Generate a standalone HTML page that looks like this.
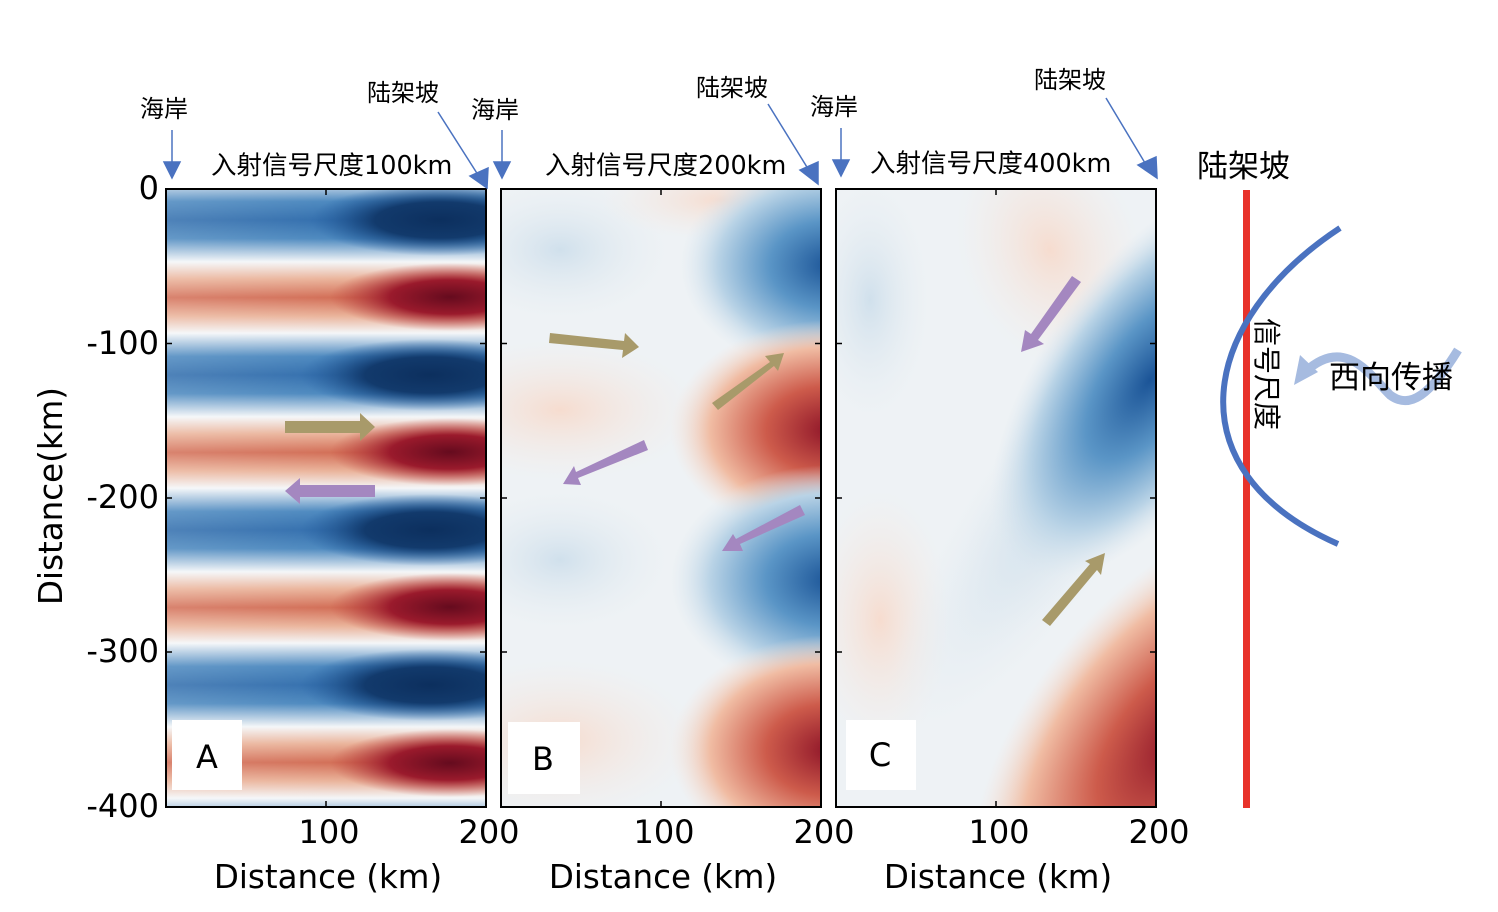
<!DOCTYPE html>
<html><head><meta charset="utf-8"><style>
html,body{margin:0;padding:0;background:#fff;overflow:hidden;width:1498px;height:912px}
svg{display:block}
svg text{font-family:"DejaVu Sans","Noto Sans CJK SC",sans-serif}
</style></head><body>
<svg width="1498" height="912" viewBox="0 0 1498 912" xmlns="http://www.w3.org/2000/svg">
<defs>
<linearGradient id="st" x1="0" y1="0" x2="0" y2="1">
<stop offset="0" stop-color="#2f6cac"/><stop offset="0.12" stop-color="#4a87be"/><stop offset="0.27" stop-color="#f4f6f8"/><stop offset="0.38" stop-color="#eab39a"/><stop offset="0.5" stop-color="#d26d55"/><stop offset="0.62" stop-color="#eab39a"/><stop offset="0.73" stop-color="#f4f6f8"/><stop offset="0.88" stop-color="#4a87be"/><stop offset="1" stop-color="#2f6cac"/>
</linearGradient>
<pattern id="pa" patternUnits="userSpaceOnUse" x="0" y="220" width="400" height="155"><rect width="400" height="155" fill="url(#st)"/></pattern>
<radialGradient id="db"><stop offset="0" stop-color="#0c2f5e"/><stop offset="0.5" stop-color="#123a6c"/><stop offset="1" stop-color="#1f5a9e" stop-opacity="0"/></radialGradient>
<radialGradient id="dr"><stop offset="0" stop-color="#650b1e"/><stop offset="0.5" stop-color="#9a1a2c"/><stop offset="1" stop-color="#c0443d" stop-opacity="0"/></radialGradient>
<radialGradient id="mb"><stop offset="0" stop-color="#1b5497"/><stop offset="0.4" stop-color="#5a95c6"/><stop offset="0.75" stop-color="#b9d3e6"/><stop offset="1" stop-color="#dde8f0" stop-opacity="0"/></radialGradient>
<radialGradient id="mr"><stop offset="0" stop-color="#8e1428"/><stop offset="0.4" stop-color="#cd5b4b"/><stop offset="0.75" stop-color="#f0bca3"/><stop offset="1" stop-color="#f6e2d8" stop-opacity="0"/></radialGradient>
<radialGradient id="lb"><stop offset="0" stop-color="#d0e0ec"/><stop offset="1" stop-color="#e6edf2" stop-opacity="0"/></radialGradient>
<radialGradient id="lr"><stop offset="0" stop-color="#f6dccf"/><stop offset="1" stop-color="#f4ebe6" stop-opacity="0"/></radialGradient>
<linearGradient id="fadeL" x1="0" y1="0" x2="1" y2="0"><stop offset="0" stop-color="#fff" stop-opacity="0.15"/><stop offset="0.6" stop-color="#fff" stop-opacity="0"/></linearGradient>
<clipPath id="ca"><rect x="166" y="189" width="320" height="618"/></clipPath>
<clipPath id="cb"><rect x="501" y="189" width="320" height="618"/></clipPath>
<clipPath id="cc"><rect x="836" y="189" width="320" height="618"/></clipPath>
</defs>

<g clip-path="url(#ca)">
<rect x="166" y="189" width="320" height="618" fill="url(#pa)"/>
<ellipse cx="440" cy="220" rx="130" ry="36" fill="url(#db)"/>
<ellipse cx="430" cy="375" rx="130" ry="36" fill="url(#db)"/>
<ellipse cx="430" cy="530" rx="130" ry="36" fill="url(#db)"/>
<ellipse cx="430" cy="685" rx="130" ry="36" fill="url(#db)"/>
<ellipse cx="450" cy="297" rx="120" ry="34" fill="url(#dr)"/>
<ellipse cx="450" cy="452" rx="120" ry="34" fill="url(#dr)"/>
<ellipse cx="450" cy="607" rx="120" ry="34" fill="url(#dr)"/>
<ellipse cx="450" cy="763" rx="120" ry="34" fill="url(#dr)"/>
<rect x="166" y="189" width="320" height="618" fill="url(#fadeL)"/>
</g>
<rect x="166" y="189" width="320" height="618" fill="none" stroke="#000" stroke-width="2"/>

<g clip-path="url(#cb)">
<rect x="501" y="189" width="320" height="618" fill="#eef2f5"/>
<ellipse cx="560" cy="250" rx="110" ry="70" fill="url(#lb)"/>
<ellipse cx="560" cy="560" rx="110" ry="70" fill="url(#lb)"/>
<ellipse cx="560" cy="410" rx="140" ry="70" fill="url(#lr)"/>
<ellipse cx="560" cy="740" rx="140" ry="80" fill="url(#lr)"/>
<ellipse cx="720" cy="200" rx="120" ry="40" fill="url(#lr)"/>
<ellipse cx="830" cy="265" rx="150" ry="110" fill="url(#mb)"/>
<ellipse cx="830" cy="430" rx="160" ry="110" fill="url(#mr)"/>
<ellipse cx="830" cy="580" rx="160" ry="115" fill="url(#mb)"/>
<ellipse cx="830" cy="750" rx="160" ry="115" fill="url(#mr)"/>
</g>
<rect x="501" y="189" width="320" height="618" fill="none" stroke="#000" stroke-width="2"/>

<g clip-path="url(#cc)">
<rect x="836" y="189" width="320" height="618" fill="#eef2f5"/>
<ellipse cx="870" cy="300" rx="60" ry="120" fill="url(#lb)"/>
<ellipse cx="880" cy="620" rx="70" ry="130" fill="url(#lr)"/>
<ellipse cx="1050" cy="250" rx="90" ry="120" fill="url(#lr)" transform="rotate(-20 1050 250)"/>
<ellipse cx="1060" cy="500" rx="80" ry="280" fill="url(#lb)" transform="rotate(35 1060 500)"/>
<ellipse cx="1080" cy="470" rx="70" ry="220" fill="url(#lb)" transform="rotate(35 1080 470)"/>
<ellipse cx="1150" cy="380" rx="110" ry="230" fill="url(#mb)" transform="rotate(35 1150 380)"/>
<ellipse cx="1180" cy="740" rx="150" ry="270" fill="url(#mr)" transform="rotate(40 1180 740)"/>
</g>
<rect x="836" y="189" width="320" height="618" fill="none" stroke="#000" stroke-width="2"/>

<g stroke="#000" stroke-width="1.5">
<line x1="166" y1="343.5" x2="172" y2="343.5"/><line x1="166" y1="498" x2="172" y2="498"/><line x1="166" y1="652" x2="172" y2="652"/>
<line x1="480" y1="343.5" x2="486" y2="343.5"/><line x1="480" y1="498" x2="486" y2="498"/><line x1="480" y1="652" x2="486" y2="652"/>
<line x1="326" y1="189" x2="326" y2="195"/><line x1="326" y1="801" x2="326" y2="807"/>
<line x1="501" y1="343.5" x2="507" y2="343.5"/><line x1="501" y1="498" x2="507" y2="498"/><line x1="501" y1="652" x2="507" y2="652"/>
<line x1="815" y1="343.5" x2="821" y2="343.5"/><line x1="815" y1="498" x2="821" y2="498"/><line x1="815" y1="652" x2="821" y2="652"/>
<line x1="661" y1="189" x2="661" y2="195"/><line x1="661" y1="801" x2="661" y2="807"/>
<line x1="836" y1="343.5" x2="842" y2="343.5"/><line x1="836" y1="498" x2="842" y2="498"/><line x1="836" y1="652" x2="842" y2="652"/>
<line x1="1150" y1="343.5" x2="1156" y2="343.5"/><line x1="1150" y1="498" x2="1156" y2="498"/><line x1="1150" y1="652" x2="1156" y2="652"/>
<line x1="996" y1="189" x2="996" y2="195"/><line x1="996" y1="801" x2="996" y2="807"/>
</g>

<g fill="#000" font-size="32">
<text x="159" y="199" text-anchor="end">0</text>
<text x="159" y="354" text-anchor="end">-100</text>
<text x="159" y="508" text-anchor="end">-200</text>
<text x="159" y="662" text-anchor="end">-300</text>
<text x="159" y="817" text-anchor="end">-400</text>
<text x="329" y="843" text-anchor="middle">100</text>
<text x="489" y="843" text-anchor="middle">200</text>
<text x="664" y="843" text-anchor="middle">100</text>
<text x="824" y="843" text-anchor="middle">200</text>
<text x="999" y="843" text-anchor="middle">100</text>
<text x="1159" y="843" text-anchor="middle">200</text>
</g>
<g fill="#000" font-size="32.5">
<text x="328" y="888" text-anchor="middle">Distance (km)</text>
<text x="663" y="888" text-anchor="middle">Distance (km)</text>
<text x="998" y="888" text-anchor="middle">Distance (km)</text>
<text transform="translate(62 496) rotate(-90)" text-anchor="middle">Distance(km)</text>
</g>

<rect x="172" y="720" width="70" height="70" fill="#fff"/>
<text x="207" y="768" font-size="32" text-anchor="middle">A</text>
<rect x="508" y="722" width="72" height="72" fill="#fff"/>
<text x="543" y="770" font-size="32" text-anchor="middle">B</text>
<rect x="846" y="720" width="70" height="70" fill="#fff"/>
<text x="880" y="766" font-size="32" text-anchor="middle">C</text>

<g font-size="25.5" fill="#000">
<text x="211" y="174">入射信号尺度100km</text>
<text x="545" y="174">入射信号尺度200km</text>
<text x="870" y="172">入射信号尺度400km</text>
</g>
<g font-size="24" fill="#000">
<text x="140" y="117">海岸</text>
<text x="471" y="118">海岸</text>
<text x="810" y="115">海岸</text>
<text x="367" y="101">陆架坡</text>
<text x="696" y="96">陆架坡</text>
<text x="1034" y="88">陆架坡</text>
</g>
<text x="1197" y="177" font-size="31">陆架坡</text>

<g stroke="#4a72c0" stroke-width="1.5" fill="#4a72c0">
<line x1="172" y1="130" x2="172" y2="165"/><polygon points="164,162 180,162 172,178"/>
<line x1="502" y1="130" x2="502" y2="165"/><polygon points="494,162 510,162 502,178"/>
<line x1="841" y1="128" x2="841" y2="163"/><polygon points="833,160 849,160 841,176"/>
<line x1="438" y1="112" x2="480" y2="178"/><polygon points="470,176 488,168 487,188"/>
<line x1="768" y1="104" x2="810" y2="172"/><polygon points="800,170 818,162 818,184"/>
<line x1="1106" y1="98" x2="1148" y2="168"/><polygon points="1138,165 1156,157 1157,178"/>
</g>

<g>
<polygon points="285,421 360,421 360,413 375,427 360,441 360,433 285,433" fill="#a89a6a"/>
<polygon points="375,485 300,485 300,478 285,491 300,504 300,497 375,497" fill="#a487c0"/>
<polygon points="550,333 624,341 625,333 639,347 622,358 623,350 549,343" fill="#a89a6a"/>
<polygon points="644,440 648,450 578,478 581,485 563,484 574,466 576,472" fill="#a487c0"/>
<polygon points="712,403 770,362 765,356 784,353 778,371 774,366 718,410" fill="#a89a6a"/>
<polygon points="800,505 805,515 740,544 743,551 722,551 733,534 736,539" fill="#a487c0"/>
<polygon points="1072,276 1081,282 1038,340 1044,344 1021,352 1025,330 1031,334" fill="#a487c0"/>
<polygon points="1042,620 1050,626 1097,570 1101,575 1105,553 1085,561 1090,564" fill="#a89a6a"/>
</g>

<rect x="1243" y="190" width="7" height="618" fill="#e8322a"/>
<path d="M1340,228 C1200,320 1170,470 1338,544" fill="none" stroke="#4a72c0" stroke-width="6"/>
<path d="M1458,350 C1430,395 1410,410 1390,395 C1370,375 1345,335 1305,372" fill="none" stroke="#a6bbe0" stroke-width="9"/>
<polygon points="1294,385 1300,355 1318,372" fill="#a6bbe0"/>
<text x="1329" y="388" font-size="31">西向传播</text>
<text transform="translate(1257 318) rotate(90)" font-size="28">信号尺度</text>
</svg>
</body></html>
